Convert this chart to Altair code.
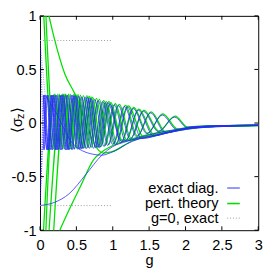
import altair as alt
import pandas as pd

# ---------------- data ----------------
x_ticks = [0, 0.5, 1, 1.5, 2, 2.5, 3]
y_ticks = [-1, -0.5, 0, 0.5, 1]
legend_labels = ["exact diag.", "pert. theory", "g=0, exact"]

# exact diagonalisation curves (g, <sigma_z>)
exact_b0 = [(0, -0.77), (0.2, -0.74), (0.4, -0.66), (0.63, -0.48), (0.85, -0.30), (1.0, -0.22),
            (1.2, -0.17), (1.5, -0.11), (1.9, -0.06), (2.3, -0.035), (3, -0.022)]
exact_b1 = [(0, 0.77), (0.07, 0.26), (0.2, 0.12), (0.45, -0.19), (0.72, -0.29), (0.85, -0.30),
            (0.96, -0.28), (1.27, -0.17), (1.6, -0.11), (2.0, -0.055), (2.4, -0.033), (3, -0.022)]
exact_c1 = [(0, -0.77), (0.063, 0.26), (0.115, -0.25), (0.172, 0.26), (0.236, -0.25), (0.307, 0.26),
            (0.385, -0.25), (0.473, 0.255), (0.57, -0.24), (0.677, 0.235), (0.797, -0.23), (0.93, 0.19),
            (1.12, -0.17), (1.4, -0.14), (1.7, -0.1), (2.0, -0.06), (2.4, -0.035), (3, -0.025)]
exact_c2 = [(0, -0.77), (0.05, 0.26), (0.10, -0.25), (0.16, 0.26), (0.22, -0.25), (0.29, 0.26),
            (0.365, -0.25), (0.45, 0.26), (0.545, -0.245), (0.65, 0.24), (0.766, -0.23), (0.896, 0.19),
            (1.04, -0.2), (1.2, 0.15), (1.4, -0.145), (1.7, -0.1), (2.0, -0.055), (2.3, -0.035), (3, -0.022)]
exact_c3 = [(0, 0.77), (0.045, -0.25), (0.095, 0.26), (0.15, -0.25), (0.21, 0.26), (0.28, -0.25),
            (0.355, 0.26), (0.44, -0.25), (0.53, 0.25), (0.635, -0.24), (0.75, 0.22), (0.88, -0.22),
            (1.02, 0.17), (1.175, -0.165), (1.35, 0.12), (1.56, -0.12), (1.85, -0.07), (2.15, -0.038),
            (2.5, -0.027), (3, -0.021)]
exact_c4 = [(0, -0.77), (0.045, 0.26), (0.095, -0.25), (0.15, 0.26), (0.21, -0.25), (0.275, 0.26),
            (0.35, -0.25), (0.43, 0.26), (0.52, -0.245), (0.62, 0.245), (0.735, -0.235), (0.86, 0.2),
            (1.0, -0.2), (1.16, 0.155), (1.33, -0.13), (1.52, 0.095), (1.72, -0.09), (2.0, -0.048),
            (2.3, -0.03), (3, -0.02)]
exact_c5 = [(0, -0.77), (0.07, 0.26), (0.125, -0.25), (0.185, 0.26), (0.25, -0.25), (0.32, 0.26),
            (0.40, -0.25), (0.49, 0.255), (0.59, -0.24), (0.70, 0.23), (0.82, -0.23), (0.96, 0.18),
            (1.11, -0.185), (1.28, 0.135), (1.47, -0.1), (1.68, 0.075), (1.88, -0.06), (2.1, -0.035),
            (2.5, -0.025), (3, -0.02)]
exact_c6 = [(0, 0.77), (0.06, -0.25), (0.11, 0.26), (0.17, -0.25), (0.23, 0.26), (0.30, -0.25),
            (0.38, 0.26), (0.47, -0.245), (0.57, 0.245), (0.68, -0.235), (0.80, 0.21), (0.93, -0.21),
            (1.075, 0.165), (1.24, -0.15), (1.42, 0.11), (1.625, -0.08), (1.85, 0.055), (2.02, -0.04),
            (2.3, -0.028), (3, -0.02)]

# perturbation theory curves
pert_b0 = [(0.24, -1.05), (0.4, -0.81), (0.55, -0.6), (0.74, -0.34), (0.85, -0.27), (1.0, -0.21),
           (1.2, -0.16), (1.5, -0.105), (1.9, -0.058), (2.3, -0.034), (3, -0.022)]
pert_b1 = [(0.09, 1.1), (0.2, 0.78), (0.34, 0.46), (0.48, 0.27), (0.62, 0.02), (0.75, -0.2),
           (0.87, -0.28), (0.98, -0.27), (1.27, -0.165), (1.6, -0.105), (2.0, -0.053), (2.4, -0.032),
           (3, -0.022)]
pert_c3 = [(0.045, 1.1), (0.185, -0.24), (0.245, 0.27), (0.315, -0.24), (0.39, 0.27), (0.475, -0.24),
           (0.555, 0.26), (0.66, -0.23), (0.775, 0.23), (0.895, -0.21), (1.035, 0.18), (1.19, -0.155),
           (1.358, 0.13), (1.57, -0.11), (1.86, -0.065), (2.15, -0.037), (2.5, -0.026), (3, -0.021)]
pert_c6 = [(0.075, 1.1), (0.205, -0.24), (0.265, 0.27), (0.335, -0.24), (0.415, 0.27), (0.505, -0.235),
           (0.595, 0.255), (0.705, -0.225), (0.815, 0.22), (0.945, -0.2), (1.09, 0.175), (1.25, -0.14),
           (1.428, 0.12), (1.633, -0.075), (1.858, 0.065), (2.03, -0.037), (2.3, -0.027), (3, -0.02)]
pert_c1 = [(0.04, -1.1), (0.207, 0.27), (0.271, -0.24), (0.342, 0.27), (0.42, -0.24), (0.508, 0.265),
           (0.595, -0.23), (0.702, 0.245), (0.812, -0.22), (0.945, 0.2), (1.13, -0.16), (1.4, -0.135),
           (1.7, -0.095), (2.0, -0.058), (2.4, -0.034), (3, -0.024)]
pert_c2 = [(0.075, -1.1), (0.195, 0.27), (0.255, -0.24), (0.325, 0.27), (0.40, -0.24), (0.485, 0.27),
           (0.57, -0.235), (0.675, 0.25), (0.791, -0.22), (0.911, 0.2), (1.055, -0.19), (1.21, 0.16),
           (1.43, -0.135), (1.7, -0.097), (2.0, -0.053), (2.3, -0.034), (3, -0.022)]
pert_c4 = [(0.115, -1.1), (0.31, 0.27), (0.385, -0.24), (0.465, 0.27), (0.545, -0.235), (0.645, 0.255),
           (0.76, -0.225), (0.875, 0.21), (1.015, -0.19), (1.175, 0.165), (1.338, -0.12), (1.528, 0.105),
           (1.73, -0.085), (2.0, -0.046), (2.3, -0.03), (3, -0.02)]
pert_c5 = [(0.18, -1.1), (0.355, 0.27), (0.435, -0.24), (0.525, 0.265), (0.615, -0.23), (0.725, 0.24),
           (0.835, -0.22), (0.975, 0.19), (1.125, -0.175), (1.288, 0.145), (1.478, -0.095), (1.688, 0.085),
           (1.89, -0.055), (2.1, -0.034), (2.5, -0.025), (3, -0.02)]

# g = 0 exact levels
g0_upper = [(0, 0.77), (1, 0.77)]
g0_lower = [(0, -0.77), (1, -0.77)]

# ---------------- styling ----------------
BLUE = "#2a2aff"
GREEN = "#00e000"
GREY = "#9a9a9a"
FONT = "Liberation Sans"
W, H = 225, 221

exact = {"b0": exact_b0, "b1": exact_b1, "c1": exact_c1, "c2": exact_c2, "c3": exact_c3,
         "c4": exact_c4, "c5": exact_c5, "c6": exact_c6}
pert = {"b0": pert_b0, "b1": pert_b1, "c1": pert_c1, "c2": pert_c2, "c3": pert_c3,
        "c4": pert_c4, "c5": pert_c5, "c6": pert_c6}
g0 = {"up": g0_upper, "lo": g0_lower}


def frame(curves, skip_first=()):
    rows = []
    for name, pts in curves.items():
        use = pts[1:] if name in skip_first else pts
        for i, (g, v) in enumerate(use):
            rows.append({"curve": name, "i": i, "g": g, "v": v})
    return pd.DataFrame(rows)


def starts(curves, names):
    rows = []
    for name in names:
        for i, (g, v) in enumerate(curves[name][:2]):
            rows.append({"curve": name, "i": i, "g": g, "v": v})
    return pd.DataFrame(rows)


dotted_start = [n for n in exact if n != "b0"]

xs = alt.Scale(domain=[0, 3], nice=False, zero=False)
ys = alt.Scale(domain=[-1, 1], nice=False, zero=False)

x_axis = alt.Axis(values=x_ticks, labelExpr="'' + datum.value", ticks=False, domain=False, grid=False,
                  labelFont=FONT, labelFontSize=15, labelColor="black", labelPadding=8,
                  labelFlush=False, labelOverlap=False,
                  title="g", titleFont=FONT, titleFontSize=15, titleFontWeight="normal",
                  titleColor="black", titlePadding=0)
y_axis = alt.Axis(values=y_ticks, labelExpr="'' + datum.value", ticks=False, domain=False, grid=False,
                  labelFont=FONT, labelFontSize=15, labelColor="black", labelPadding=4,
                  labelFlush=False, labelOverlap=False, title=None)


def xenc(field="g"):
    return alt.X(f"{field}:Q", scale=xs, axis=x_axis, title="g")


def yenc(field="v"):
    return alt.Y(f"{field}:Q", scale=ys, axis=y_axis, title=None)


green_layer = alt.Chart(frame(pert)).mark_line(
    interpolate="monotone", clip=True, color=GREEN, strokeWidth=1.3
).encode(x=xenc("g"), y=yenc("v"), detail="curve:N", order="i:Q")

blue_layer = alt.Chart(frame(exact, dotted_start)).mark_line(
    interpolate="monotone", clip=True, color=BLUE, strokeWidth=0.8
).encode(x=xenc(), y=yenc(), detail="curve:N", order="i:Q")

blue_start = alt.Chart(starts(exact, dotted_start)).mark_line(
    clip=True, color=BLUE, strokeWidth=0.8, strokeDash=[1, 1.5], opacity=0.6
).encode(x=xenc(), y=yenc(), detail="curve:N", order="i:Q")

grey_layer = alt.Chart(frame(g0)).mark_line(
    clip=True, color=GREY, strokeWidth=1, strokeDash=[1, 2]
).encode(x=xenc(), y=yenc(), detail="curve:N", order="i:Q")

xt = pd.DataFrame({"t": x_ticks})
yt = pd.DataFrame({"t": y_ticks})
tick_top = alt.Chart(xt).mark_rule(color="black").encode(x=xenc("t"), y=alt.value(0), y2=alt.value(4))
tick_bot = alt.Chart(xt).mark_rule(color="black").encode(x=xenc("t"), y=alt.value(H), y2=alt.value(H - 4))
tick_left = alt.Chart(yt).mark_rule(color="black").encode(y=yenc("t"), x=alt.value(0), x2=alt.value(4))
tick_right = alt.Chart(yt).mark_rule(color="black").encode(y=yenc("t"), x=alt.value(W - 4), x2=alt.value(W))

# legend (gnuplot style: text right-aligned, sample on the right)
leg_rows = [177.5, 193.5, 208.5]
leg_colors = [BLUE, GREEN, GREY]
leg_widths = [1, 1.6, 1]
legend_layers = []
for lab, yy, col, sw in zip(legend_labels, leg_rows, leg_colors, leg_widths):
    legend_layers.append(
        alt.Chart(pd.DataFrame({"label": [lab]})).mark_text(
            align="right", baseline="middle", font=FONT, fontSize=15, color="black"
        ).encode(x=alt.value(184), y=alt.value(yy), text="label:N")
    )
    if lab == "g=0, exact":
        rule = alt.Chart(pd.DataFrame({"label": [lab]})).mark_rule(stroke=col, strokeWidth=sw, strokeDash=[1, 2])
    else:
        rule = alt.Chart(pd.DataFrame({"label": [lab]})).mark_rule(stroke=col, strokeWidth=sw)
    legend_layers.append(rule.encode(x=alt.value(193), x2=alt.value(206), y=alt.value(yy)))

# y axis title <sigma_z>
ytitle_parts = [("⟨σ", -23.5, 113, 15), ("z", -19.5, 103.5, 11), ("⟩", -23.5, 97.5, 15)]
ytitle_layers = []
for txt, xx, yy, fs in ytitle_parts:
    ytitle_layers.append(
        alt.Chart(pd.DataFrame({"s": [txt]})).mark_text(
            angle=270, align="center", baseline="middle", font=FONT, fontSize=fs, color="black"
        ).encode(x=alt.value(xx), y=alt.value(yy), text="s:N")
    )

chart = alt.layer(
    green_layer, blue_layer, blue_start, grey_layer,
    tick_top, tick_bot, tick_left, tick_right,
    *legend_layers, *ytitle_layers
).properties(
    width=W, height=H,
    padding={"left": 33, "top": 4, "right": 8, "bottom": 40},
    autosize=alt.AutoSizeParams(type="none"),
    background="white",
).configure_view(stroke="black", strokeWidth=1)

chart.save("out.html", embed_options={"renderer": "svg", "actions": False})
